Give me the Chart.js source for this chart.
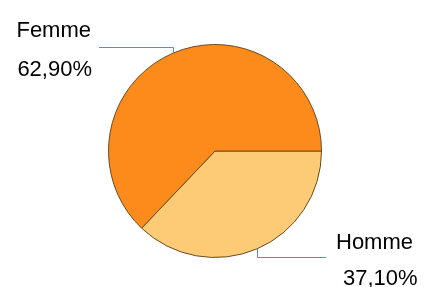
<!DOCTYPE html>
<html>
<head>
<meta charset="utf-8">
<script src="https://cdn.jsdelivr.net/npm/chart.js@4/dist/chart.umd.min.js"></script>
<style>
  html, body { margin: 0; padding: 0; background: #fff; }
  #wrap { width: 425px; height: 287px; }
</style>
</head>
<body>
<div id="wrap"><canvas id="pie" width="425" height="287"></canvas></div>
<script>
// données du graphique
const categories = ['Homme', 'Femme'];
const values = [37.1, 62.9];
const colors = ['#fdcb76', '#fd8b1c'];

// format français : 62,90%
function fmt(v) {
    return v.toFixed(2).replace('.', ',') + '%';
}

// étiquettes avec lignes de rappel
const leaderLabels = {
    id: 'leaderLabels',
    afterDraw(chart, args, opts) {
        const ctx = chart.ctx;
        const arcs = chart.getDatasetMeta(0).data;
        ctx.save();
        arcs.forEach(function(arc, i) {
            const p = arc.getProps(['x', 'y', 'startAngle', 'endAngle', 'outerRadius'], true);
            const mid = (p.startAngle + p.endAngle) / 2;
            const ax = p.x + Math.cos(mid) * p.outerRadius;
            const ay = p.y + Math.sin(mid) * p.outerRadius;
            const o = opts.layout[i];
            const ey = Math.round(ay + o.dy) + 0.5;
            const ex = Math.round(ax + o.dx);
            const lx = Math.round(ax) + 0.5;

            ctx.strokeStyle = '#5f9684';
            ctx.lineWidth = 1;
            ctx.beginPath();
            ctx.moveTo(lx, ay);
            ctx.lineTo(lx, ey);
            ctx.lineTo(ex, ey);
            ctx.stroke();

            ctx.fillStyle = '#000';
            ctx.font = '22px "Liberation Sans", Arial, sans-serif';
            ctx.textBaseline = 'alphabetic';
            ctx.textAlign = o.align;
            ctx.fillText(categories[i], ex + o.tx1, ey + o.ty1);
            ctx.fillText(fmt(values[i]), ex + o.tx2, ey + o.ty2);
        });
        ctx.restore();
    }
};

new Chart(document.getElementById('pie'), {
    type: 'pie',
    data: {
        labels: categories,
        datasets: [{
            data: values,
            backgroundColor: colors,
            borderColor: '#6b4a1e',
            borderWidth: 1
        }]
    },
    options: {
        responsive: false,
        animation: false,
        rotation: 90,
        layout: { padding: { left: 108, right: 103, top: 44, bottom: 29 } },
        plugins: {
            legend: { display: false },
            tooltip: { enabled: false },
            leaderLabels: {
                layout: [
                    { dx: 69, dy: 8, align: 'left', tx1: 10, ty1: -9, tx2: 17, ty2: 27 },
                    { dx: -74, dy: -6, align: 'right', tx1: -8, ty1: -11, tx2: -7, ty2: 28 }
                ]
            }
        }
    },
    plugins: [leaderLabels]
});
</script>
</body>
</html>
